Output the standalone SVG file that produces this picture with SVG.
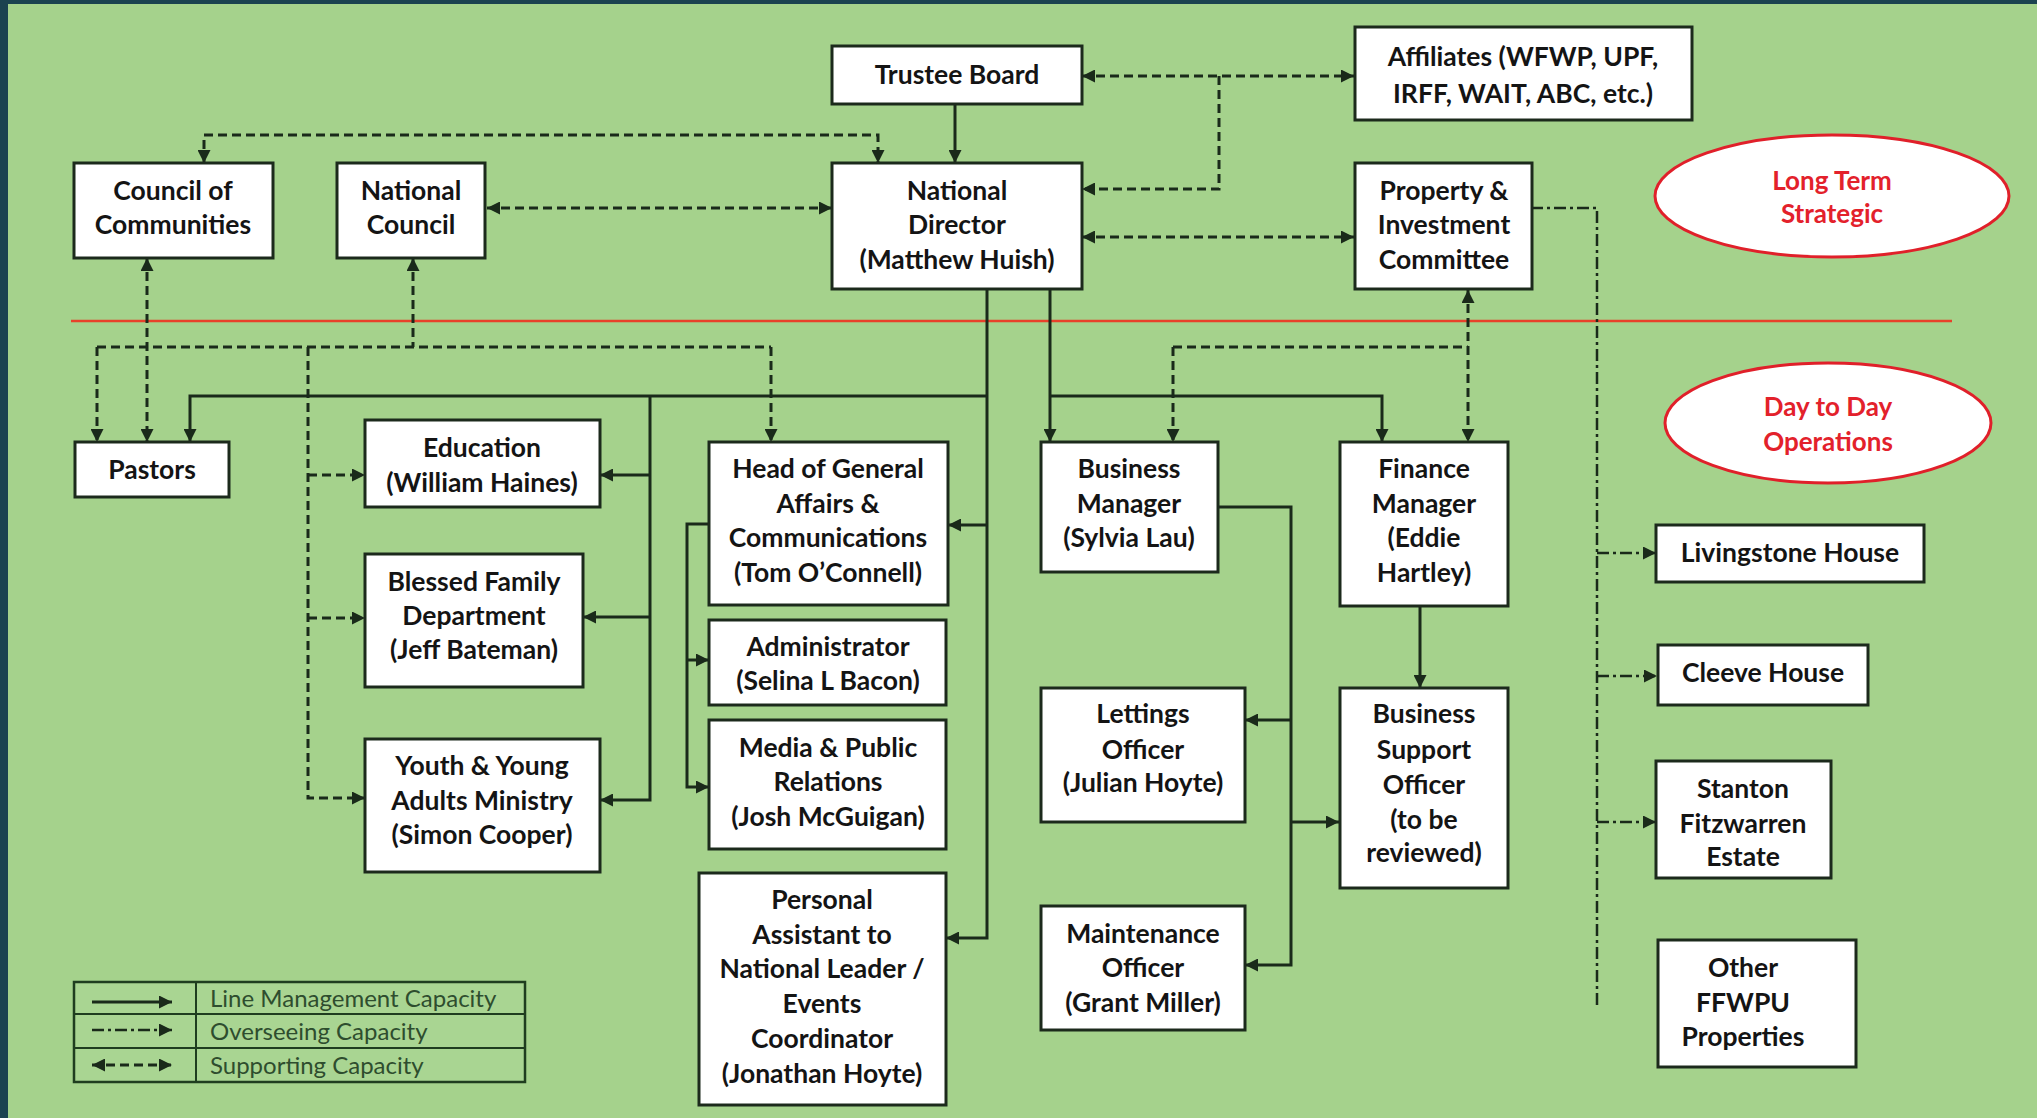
<svg xmlns="http://www.w3.org/2000/svg" width="2037" height="1118" viewBox="0 0 2037 1118">
<defs>
<style>
.bx{fill:#fff;stroke:#1c2a1c;stroke-width:3}
.t{font-family:Lato,"Open Sans",sans-serif;font-weight:700;font-size:26.5px;fill:#141414;text-anchor:middle}
.rt{font-family:Lato,"Open Sans",sans-serif;font-weight:700;font-size:26px;fill:#e3212b;text-anchor:middle}
.lt{font-family:Lato,"Open Sans",sans-serif;font-size:24px;fill:#2e4d2e}
.ln{fill:none;stroke:#1a2a1a;stroke-width:3}
.sup{fill:none;stroke:#1a2a1a;stroke-width:3;stroke-dasharray:9 5}
.ov{fill:none;stroke:#1a2a1a;stroke-width:2.5;stroke-dasharray:12 4 3 4}
</style>
<marker id="ah" viewBox="0 0 10 10" refX="10" refY="5" markerWidth="14" markerHeight="13" markerUnits="userSpaceOnUse" orient="auto-start-reverse">
<path d="M0,0 L10,5 L0,10 z" fill="#1a2a1a"/>
</marker>
</defs>
<rect x="0" y="0" width="2037" height="1118" fill="#1b4350"/>
<rect x="8" y="4" width="2029" height="1114" fill="#a5d28c"/>
<line x1="71" y1="321" x2="1952" y2="321" stroke="#e8412a" stroke-width="2.5"/>

<g id="connectors">
<path class="sup" d="M204,163 L204,135 L878,135 L878,163" marker-start="url(#ah)" marker-end="url(#ah)"/>
<path class="sup" d="M487,208 L832,208" marker-start="url(#ah)" marker-end="url(#ah)"/>
<path class="sup" d="M1082,76 L1354,76" marker-start="url(#ah)" marker-end="url(#ah)"/>
<path class="sup" d="M1219,76 L1219,189 L1082,189" marker-end="url(#ah)"/>
<path class="sup" d="M1082,237 L1354,237" marker-start="url(#ah)" marker-end="url(#ah)"/>
<path class="sup" d="M147,258 L147,442" marker-start="url(#ah)" marker-end="url(#ah)"/>
<path class="sup" d="M413,258 L413,347" marker-start="url(#ah)"/>
<path class="sup" d="M97,347 L771,347"/>
<path class="sup" d="M97,347 L97,442" marker-end="url(#ah)"/>
<path class="sup" d="M771,347 L771,442" marker-end="url(#ah)"/>
<path class="sup" d="M308,347 L308,798 L365,798" marker-end="url(#ah)"/>
<path class="sup" d="M308,475 L365,475" marker-end="url(#ah)"/>
<path class="sup" d="M308,618 L365,618" marker-end="url(#ah)"/>
<path class="sup" d="M1468,290 L1468,442" marker-start="url(#ah)" marker-end="url(#ah)"/>
<path class="sup" d="M1173,347 L1468,347"/>
<path class="sup" d="M1173,347 L1173,442" marker-end="url(#ah)"/>
<path class="ln" d="M955,104 L955,163" marker-end="url(#ah)"/>
<path class="ln" d="M987,289 L987,938 L946,938" marker-end="url(#ah)"/>
<path class="ln" d="M987,396 L190,396 L190,442" marker-end="url(#ah)"/>
<path class="ln" d="M987,525 L948,525" marker-end="url(#ah)"/>
<path class="ln" d="M650,396 L650,800 L600,800" marker-end="url(#ah)"/>
<path class="ln" d="M650,475 L600,475" marker-end="url(#ah)"/>
<path class="ln" d="M650,617 L583,617" marker-end="url(#ah)"/>
<path class="ln" d="M709,524 L687,524 L687,787 L709,787" marker-end="url(#ah)"/>
<path class="ln" d="M687,660 L709,660" marker-end="url(#ah)"/>
<path class="ln" d="M1050,289 L1050,442" marker-end="url(#ah)"/>
<path class="ln" d="M1050,396 L1382,396 L1382,442" marker-end="url(#ah)"/>
<path class="ln" d="M1218,507 L1291,507 L1291,965 L1245,965" marker-end="url(#ah)"/>
<path class="ln" d="M1291,720 L1245,720" marker-end="url(#ah)"/>
<path class="ln" d="M1291,822 L1339,822" marker-end="url(#ah)"/>
<path class="ln" d="M1420,606 L1420,688" marker-end="url(#ah)"/>
<path class="ov" d="M1531,208 L1597,208 L1597,1007"/>
<path class="ov" d="M1597,553 L1656,553" marker-end="url(#ah)"/>
<path class="ov" d="M1597,676 L1657,676" marker-end="url(#ah)"/>
<path class="ov" d="M1597,822 L1656,822" marker-end="url(#ah)"/>
</g>

<g id="trustee"><rect class="bx" x="832" y="46" width="250" height="58"/><text class="t" x="957" y="84">Trustee Board</text></g>
<g id="affiliates"><rect class="bx" x="1355" y="27" width="337" height="93"/><text class="t" x="1523" y="66">Affiliates (WFWP, UPF,</text><text class="t" x="1523" y="103">IRFF, WAIT, ABC, etc.)</text></g>
<g id="council-communities"><rect class="bx" x="74" y="163" width="199" height="95"/><text class="t" x="173" y="200">Council of</text><text class="t" x="173" y="234">Communities</text></g>
<g id="national-council"><rect class="bx" x="337" y="163" width="148" height="95"/><text class="t" x="411" y="200">National</text><text class="t" x="411" y="234">Council</text></g>
<g id="national-director"><rect class="bx" x="832" y="163" width="250" height="126"/><text class="t" x="957" y="200">National</text><text class="t" x="957" y="234">Director</text><text class="t" x="957" y="269">(Matthew Huish)</text></g>
<g id="property"><rect class="bx" x="1355" y="163" width="177" height="126"/><text class="t" x="1444" y="200">Property &amp;</text><text class="t" x="1444" y="234">Investment</text><text class="t" x="1444" y="269">Committee</text></g>
<g id="long-term"><ellipse cx="1832" cy="196" rx="177" ry="61" fill="#fff" stroke="#e0202a" stroke-width="3"/><text class="rt" x="1832" y="190">Long Term</text><text class="rt" x="1832" y="223">Strategic</text></g>
<g id="day-to-day"><ellipse cx="1828" cy="423" rx="163" ry="60" fill="#fff" stroke="#e0202a" stroke-width="3"/><text class="rt" x="1828" y="416">Day to Day</text><text class="rt" x="1828" y="451">Operations</text></g>
<g id="pastors"><rect class="bx" x="75" y="442" width="154" height="55"/><text class="t" x="152" y="479">Pastors</text></g>
<g id="education"><rect class="bx" x="365" y="420" width="235" height="87"/><text class="t" x="482" y="457">Education</text><text class="t" x="482" y="492">(William Haines)</text></g>
<g id="blessed-family"><rect class="bx" x="365" y="554" width="218" height="133"/><text class="t" x="474" y="591">Blessed Family</text><text class="t" x="474" y="625">Department</text><text class="t" x="474" y="659">(Jeff Bateman)</text></g>
<g id="youth"><rect class="bx" x="365" y="739" width="235" height="133"/><text class="t" x="482" y="775">Youth &amp; Young</text><text class="t" x="482" y="810">Adults Ministry</text><text class="t" x="482" y="844">(Simon Cooper)</text></g>
<g id="head-general-affairs"><rect class="bx" x="709" y="442" width="239" height="163"/><text class="t" x="828" y="478">Head of General</text><text class="t" x="828" y="513">Affairs &amp;</text><text class="t" x="828" y="547">Communications</text><text class="t" x="828" y="582">(Tom O’Connell)</text></g>
<g id="administrator"><rect class="bx" x="709" y="620" width="237" height="85"/><text class="t" x="828" y="656">Administrator</text><text class="t" x="828" y="690">(Selina L Bacon)</text></g>
<g id="media"><rect class="bx" x="709" y="720" width="237" height="129"/><text class="t" x="828" y="757">Media &amp; Public</text><text class="t" x="828" y="791">Relations</text><text class="t" x="828" y="826">(Josh McGuigan)</text></g>
<g id="personal-assistant"><rect class="bx" x="699" y="873" width="247" height="232"/><text class="t" x="822" y="909">Personal</text><text class="t" x="822" y="944">Assistant to</text><text class="t" x="822" y="978">National Leader /</text><text class="t" x="822" y="1013">Events</text><text class="t" x="822" y="1048">Coordinator</text><text class="t" x="822" y="1083">(Jonathan Hoyte)</text></g>
<g id="business-manager"><rect class="bx" x="1041" y="442" width="177" height="130"/><text class="t" x="1129" y="478">Business</text><text class="t" x="1129" y="513">Manager</text><text class="t" x="1129" y="547">(Sylvia Lau)</text></g>
<g id="lettings"><rect class="bx" x="1041" y="688" width="204" height="134"/><text class="t" x="1143" y="723">Lettings</text><text class="t" x="1143" y="759">Officer</text><text class="t" x="1143" y="792">(Julian Hoyte)</text></g>
<g id="maintenance"><rect class="bx" x="1041" y="906" width="204" height="124"/><text class="t" x="1143" y="943">Maintenance</text><text class="t" x="1143" y="977">Officer</text><text class="t" x="1143" y="1012">(Grant Miller)</text></g>
<g id="finance-manager"><rect class="bx" x="1340" y="442" width="168" height="164"/><text class="t" x="1424" y="478">Finance</text><text class="t" x="1424" y="513">Manager</text><text class="t" x="1424" y="547">(Eddie</text><text class="t" x="1424" y="582">Hartley)</text></g>
<g id="business-support"><rect class="bx" x="1340" y="688" width="168" height="200"/><text class="t" x="1424" y="723">Business</text><text class="t" x="1424" y="759">Support</text><text class="t" x="1424" y="794">Officer</text><text class="t" x="1424" y="829">(to be</text><text class="t" x="1424" y="862">reviewed)</text></g>
<g id="livingstone"><rect class="bx" x="1656" y="525" width="268" height="57"/><text class="t" x="1790" y="562">Livingstone House</text></g>
<g id="cleeve"><rect class="bx" x="1658" y="645" width="210" height="60"/><text class="t" x="1763" y="682">Cleeve House</text></g>
<g id="stanton"><rect class="bx" x="1656" y="761" width="175" height="117"/><text class="t" x="1743" y="798">Stanton</text><text class="t" x="1743" y="833">Fitzwarren</text><text class="t" x="1743" y="866">Estate</text></g>
<g id="other-ffwpu"><rect class="bx" x="1658" y="940" width="198" height="127"/><text class="t" x="1743" y="977">Other</text><text class="t" x="1743" y="1012">FFWPU</text><text class="t" x="1743" y="1046">Properties</text></g>

<g id="legend">
<rect x="74" y="982" width="451" height="100" fill="#a9d592" stroke="#1f3d1f" stroke-width="2.5"/>
<line x1="74" y1="1014" x2="525" y2="1014" stroke="#1f3d1f" stroke-width="2"/>
<line x1="74" y1="1048" x2="525" y2="1048" stroke="#1f3d1f" stroke-width="2"/>
<line x1="196" y1="982" x2="196" y2="1082" stroke="#1f3d1f" stroke-width="2"/>
<path class="ln" d="M92,1002 L172,1002" marker-end="url(#ah)"/>
<path class="ov" d="M92,1030 L172,1030" marker-end="url(#ah)"/>
<path class="sup" d="M92,1065 L172,1065" marker-start="url(#ah)" marker-end="url(#ah)"/>
<text class="lt" x="210" y="1007">Line Management Capacity</text>
<text class="lt" x="210" y="1040">Overseeing Capacity</text>
<text class="lt" x="210" y="1074">Supporting Capacity</text>
</g>
</svg>
